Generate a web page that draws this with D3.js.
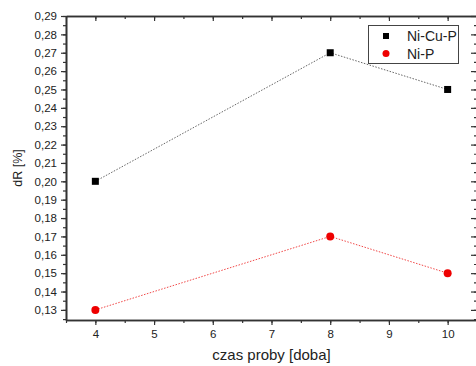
<!DOCTYPE html>
<html><head><meta charset="utf-8">
<script src="https://cdn.jsdelivr.net/npm/d3@7"></script>
<style>body{margin:0;background:#fff}svg{display:block}</style>
</head><body>
<script>
const days = [4, 8, 10];
const niCuP = [0.20, 0.27, 0.25];
const niP = [0.13, 0.17, 0.15];
const seriesNames = ["Ni-Cu-P", "Ni-P"];
const xTicks = [4, 5, 6, 7, 8, 9, 10];
const yTicks = [0.13,0.14,0.15,0.16,0.17,0.18,0.19,0.20,0.21,0.22,0.23,0.24,0.25,0.26,0.27,0.28,0.29];

const W = 476, H = 366;
const L = 66, R = 477, T = 16, B = 320;
const svg = d3.select("body").append("svg").attr("width", W).attr("height", H);
const x = d3.scaleLinear().domain([3.5, 10.5]).range([L, R]);
const y = d3.scaleLinear().domain([0.1245, 0.29]).range([B, T]);
const font = "Liberation Sans, Arial, sans-serif";
const axCol = "#333";

const xMinor = d3.range(3.5, 10.51, 0.5);
const yMinor = d3.range(0, 34).map(i => 0.125 + i * 0.005).filter(v => v <= 0.2901);
const fmt = d => d3.format(".2f")(d).replace(".", ",");

function styleAxis(g) {
  g.selectAll("path").attr("stroke", axCol).attr("stroke-width", 1.6);
  g.selectAll("line").attr("stroke", axCol).attr("stroke-width", 1.2);
  g.selectAll("text").attr("font-family", font).attr("font-size", 11.5).attr("fill", "#222");
}
// bottom
svg.append("g").attr("transform", `translate(0,${B})`)
  .call(d3.axisBottom(x).tickValues(xMinor).tickSize(3).tickFormat("").tickSizeOuter(0)).call(styleAxis);
svg.append("g").attr("transform", `translate(0,${B})`)
  .call(d3.axisBottom(x).tickValues(xTicks).tickSize(5).tickPadding(5).tickFormat(d3.format("d")).tickSizeOuter(0)).call(styleAxis);
// top
svg.append("g").attr("transform", `translate(0,${T})`)
  .call(d3.axisTop(x).tickValues(xMinor).tickSize(-3).tickFormat("").tickSizeOuter(0)).call(styleAxis);
svg.append("g").attr("transform", `translate(0,${T})`)
  .call(d3.axisTop(x).tickValues(xTicks).tickSize(-5).tickFormat("").tickSizeOuter(0)).call(styleAxis);
// left
svg.append("g").attr("transform", `translate(${L},0)`)
  .call(d3.axisLeft(y).tickValues(yMinor).tickSize(3).tickFormat("").tickSizeOuter(0)).call(styleAxis);
svg.append("g").attr("transform", `translate(${L},0)`)
  .call(d3.axisLeft(y).tickValues(yTicks).tickSize(5).tickPadding(4).tickFormat(fmt).tickSizeOuter(0)).call(styleAxis);
// right
svg.append("g").attr("transform", `translate(${R},0)`)
  .call(d3.axisRight(y).tickValues(yMinor).tickSize(-3).tickFormat("").tickSizeOuter(0)).call(styleAxis);
svg.append("g").attr("transform", `translate(${R},0)`)
  .call(d3.axisRight(y).tickValues(yTicks).tickSize(-6).tickFormat("").tickSizeOuter(0)).call(styleAxis);

// axis titles
svg.append("text").attr("x", (L + R) / 2).attr("y", 360).attr("text-anchor", "middle")
  .attr("font-family", font).attr("font-size", 15).attr("fill", "#222").text("czas proby [doba]");
svg.append("text").attr("transform", `translate(22,${(T + B) / 2}) rotate(-90)`).attr("text-anchor", "middle")
  .attr("font-family", font).attr("font-size", 12.5).attr("fill", "#222").text("dR [%]");

// lines
const line = d3.line().x(d => x(d[0])).y(d => y(d[1]));
const s1 = days.map((d, i) => [d, niCuP[i]]);
const s2 = days.map((d, i) => [d, niP[i]]);
svg.append("path").datum(s1).attr("d", line).attr("fill", "none").attr("stroke", "#555")
  .attr("stroke-width", 0.9).attr("stroke-dasharray", "1.5,1.5");
svg.append("path").datum(s2).attr("d", line).attr("fill", "none").attr("stroke", "#e33")
  .attr("stroke-width", 0.9).attr("stroke-dasharray", "1.5,1.5");
svg.selectAll(".sq").data(s1).enter().append("rect")
  .attr("x", d => x(d[0]) - 3.5).attr("y", d => y(d[1]) - 3.5).attr("width", 7).attr("height", 7).attr("fill", "#000");
svg.selectAll(".ci").data(s2).enter().append("circle")
  .attr("cx", d => x(d[0])).attr("cy", d => y(d[1])).attr("r", 4).attr("fill", "#e00");

// legend
const lg = svg.append("g");
lg.append("rect").attr("x", 368.5).attr("y", 25.5).attr("width", 90).attr("height", 38)
  .attr("fill", "#fff").attr("stroke", "#444").attr("stroke-width", 1);
lg.append("rect").attr("x", 383).attr("y", 33).attr("width", 6).attr("height", 6).attr("fill", "#000");
lg.append("circle").attr("cx", 386).attr("cy", 53.5).attr("r", 3.5).attr("fill", "#e00");
lg.append("text").attr("x", 407).attr("y", 41).attr("font-family", font).attr("font-size", 14).attr("fill", "#222").text(seriesNames[0]);
lg.append("text").attr("x", 407).attr("y", 58.5).attr("font-family", font).attr("font-size", 14).attr("fill", "#222").text(seriesNames[1]);
</script>
</body></html>
